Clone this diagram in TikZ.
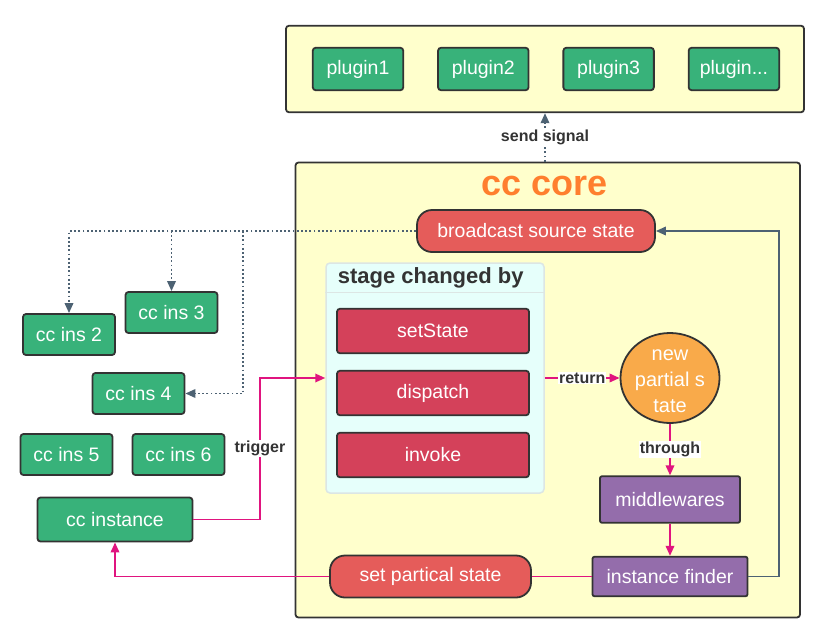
\documentclass[tikz,border=0pt]{standalone}
\usepackage{fontspec}
\setmainfont{Liberation Sans}
\usetikzlibrary{arrows.meta,shapes.geometric}

\definecolor{coreyellow}{HTML}{FFFFCC}
\definecolor{boxline}{HTML}{333333}
\definecolor{ccgreen}{HTML}{38B27A}
\definecolor{statered}{HTML}{D4415A}
\definecolor{pillred}{HTML}{E55C5A}
\definecolor{mwpurple}{HTML}{946DAB}
\definecolor{psorange}{HTML}{F9AA4A}
\definecolor{stagefill}{HTML}{E6FFFB}
\definecolor{stageline}{HTML}{DCE6E4}
\definecolor{linkpink}{HTML}{E0147F}
\definecolor{linkgrey}{HTML}{4D6273}
\definecolor{titleorange}{HTML}{FF7F2E}

\begin{document}
\begin{tikzpicture}[x=1pt, y=-1pt, node distance=62pt,
    >={Triangle[length=10pt, width=8.5pt]},
    every node/.style={font=\fontsize{19.5}{23}\selectfont},
    container/.style={draw=boxline, fill=coreyellow, rectangle, rounded corners=3pt, line width=1.8pt},
    greenbox/.style={draw=boxline, fill=ccgreen, rectangle, rounded corners=3pt, line width=1.8pt, text=white, minimum width=92pt, minimum height=41pt},
    statebox/.style={draw=boxline, fill=statered, rectangle, rounded corners=3pt, line width=1.8pt, text=white, minimum width=192pt, minimum height=44.5pt},
    pillbox/.style={draw=boxline, fill=pillred, rectangle, rounded corners=15pt, line width=1.8pt, text=white, minimum height=42pt},
    purplebox/.style={draw=boxline, fill=mwpurple, rectangle, rounded corners=2pt, line width=1.8pt, text=white},
    linktext/.style={fill=white, text=boxline, inner sep=1pt, font=\fontsize{16}{18}\selectfont\bfseries},
    pinkline/.style={draw=linkpink, line width=1.8pt},
    greyline/.style={draw=linkgrey, line width=1.8pt},
    dotline/.style={draw=linkgrey, line width=1.8pt, dash pattern=on 1.8pt off 2.4pt}]
    \useasboundingbox (0,0) rectangle (819,635);

    % Containers
    \node (plugins) [container, minimum width=518pt, minimum height=86.5pt] at (545,69) {};
    \node (core) [container, minimum width=504.5pt, minimum height=455pt] at (547.75,390) {};
    \node (coretitle) [text=titleorange, font=\fontsize{36}{40}\selectfont\bfseries] at (545,185.5) {cc core};
    \node (stage) [draw=stageline, fill=stagefill, rectangle, rounded corners=4pt, line width=1.5pt, minimum width=218pt, minimum height=230pt] at (435,378) {};
    \draw[draw=stageline, line width=1.5pt] ([yshift=-30pt]stage.north west) -- ([yshift=-30pt]stage.north east);
    \node (stagetitle) [anchor=west, text=boxline, font=\fontsize{22}{25}\selectfont\bfseries] at ([xshift=9pt, yshift=-16pt]stage.north west) {stage changed by};

    % Nodes
    \node (plugin1) [greenbox, minimum width=90.5pt, minimum height=42.5pt] at (358,69) {plugin1};
    \node (plugin2) [greenbox, minimum width=90.5pt, minimum height=42.5pt, right of=plugin1, node distance=125.3pt] {plugin2};
    \node (plugin3) [greenbox, minimum width=90.5pt, minimum height=42.5pt, right of=plugin2, node distance=125.3pt] {plugin3};
    \node (pluginmore) [greenbox, minimum width=90.5pt, minimum height=42.5pt, right of=plugin3, node distance=125.3pt] {plugin...};

    \node (broadcast) [pillbox, minimum width=238pt] at (536,231) {broadcast source state};

    \node (setstate) [statebox] at (433,331) {setState};
    \node (dispatch) [statebox, below of=setstate] {dispatch};
    \node (invoke) [statebox, below of=dispatch] {invoke};

    \node (newps) [ellipse, draw=boxline, fill=psorange, line width=1.8pt, text=white, inner sep=0pt, minimum width=99pt, minimum height=90pt, font=\fontsize{20}{26}\selectfont] at (670,378)
        {\smash{\raisebox{-8pt}{\begin{tabular}{@{}c@{}}new\\partial s\\tate\end{tabular}}}};
    \node (middle) [purplebox, minimum width=140pt, minimum height=46.5pt] at (670,499.5) {middlewares};
    \node (finder) [purplebox, minimum width=155pt, minimum height=39.5pt] at (670,576.5) {instance finder};
    \node (setps) [pillbox, minimum width=201pt] at (430.5,576.5) {set partical state};

    \node (ins2) [greenbox] at (69,334.5) {cc ins 2};
    \node (ins3) [greenbox] at (171.5,312.5) {cc ins 3};
    \node (ins4) [greenbox] at (138.5,393.5) {cc ins 4};
    \node (ins5) [greenbox] at (66.5,454.5) {cc ins 5};
    \node (ins6) [greenbox] at (178.5,454.5) {cc ins 6};
    \node (ccinst) [greenbox, minimum width=155pt, minimum height=44pt] at (115,519.5) {cc instance};

    \coordinate (ins4fork) at (243,231);
    \coordinate (trigbend) at (260,448);

    % Arrows
    \draw[dotline, ->] (plugins.south |- core.north) -- node[linktext] {send signal} (plugins.south);
    \draw[dotline, ->] (broadcast.west) -| (ins2.north);
    \draw[dotline, ->] (ins3.north |- broadcast.west) -- (ins3.north);
    \draw[dotline, ->] (ins4fork) |- (ins4.east);
    \draw[pinkline, ->] (ccinst.east) -| (trigbend) node[linktext] {trigger} |- (stage.west);
    \draw[pinkline, ->] (stage.east) -- node[linktext] {return} (newps.west);
    \draw[pinkline, ->] (newps.south) -- node[linktext] {through} (middle.north);
    \draw[pinkline, ->] (middle.south) -- (finder.north);
    \draw[pinkline] (finder.west) -- (setps.east);
    \draw[pinkline, ->] (setps.west) -| (ccinst.south);
    \draw[greyline, ->] (finder.east) -- ++(30.5,0) |- (broadcast.east);
\end{tikzpicture}
\end{document}
